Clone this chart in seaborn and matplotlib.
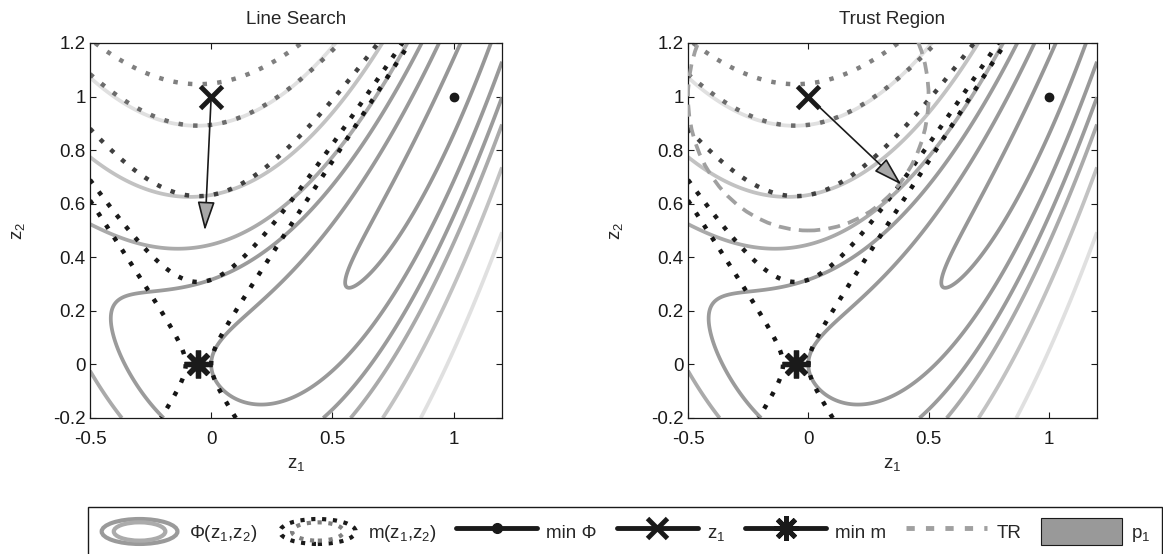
import numpy as np
import matplotlib
matplotlib.use('Agg')  # no display
import matplotlib.pyplot as plt
import seaborn as sns
from matplotlib.lines import Line2D
from matplotlib.patches import Ellipse, Circle, Patch
from matplotlib.legend_handler import HandlerBase

# objective Phi = (a - z1)^2 + b (z2 - z1^2)^2
rosen_a = 1.0
rosen_b = 10.0
z1_range = [-0.5, 1.2]
z2_range = [-0.2, 1.2]

phi_levels = [0.2, 1, 2, 3, 5, 9]
phi_colors = ['#979797', '#999999', '#9b9b9b', '#aaaaaa', '#c2c2c2', '#e0e0e0']
m_levels = [1, 2, 5, 9, 12]
m_colors = ['#151515', '#1c1c1c', '#404040', '#6c6c6c', '#808080']

current_point = [0.0, 1.0]      # z_1, where the model m is built
phi_min = [1.0, 1.0]
ls_step_end = [-0.026, 0.5]
tr_step_end = [0.387, 0.671]
tr_radius = 0.5

x_ticks = [-0.5, 0, 0.5, 1]
x_tick_labels = ['-0.5', '0', '0.5', '1']
y_ticks = [-0.2, 0, 0.2, 0.4, 0.6, 0.8, 1, 1.2]
y_tick_labels = ['-0.2', '0', '0.2', '0.4', '0.6', '0.8', '1', '1.2']
titles = ['Line Search', 'Trust Region']
step_ends = [ls_step_end, tr_step_end]

FS = 13.5

sns.set_theme(style='ticks')
plt.rcParams['font.family'] = ['Liberation Sans', 'DejaVu Sans']
plt.rcParams['mathtext.fontset'] = 'custom'
plt.rcParams['mathtext.rm'] = 'Liberation Sans'
plt.rcParams['mathtext.it'] = 'Liberation Sans'
plt.rcParams['mathtext.bf'] = 'Liberation Sans:bold'

# surfaces
g1 = np.linspace(z1_range[0], z1_range[1], 600)
g2 = np.linspace(z2_range[0], z2_range[1], 600)
Z1, Z2 = np.meshgrid(g1, g2)
PHI = (rosen_a - Z1) ** 2 + rosen_b * (Z2 - Z1 ** 2) ** 2

x0, y0 = current_point
f0 = (rosen_a - x0) ** 2 + rosen_b * (y0 - x0 ** 2) ** 2
grad = np.array([-2 * (rosen_a - x0) - 4 * rosen_b * x0 * (y0 - x0 ** 2),
                 2 * rosen_b * (y0 - x0 ** 2)])
hess = np.array([[2 - 4 * rosen_b * (y0 - x0 ** 2) + 8 * rosen_b * x0 ** 2, -4 * rosen_b * x0],
                 [-4 * rosen_b * x0, 2 * rosen_b]])
P1, P2 = Z1 - x0, Z2 - y0
M = (f0 + grad[0] * P1 + grad[1] * P2
     + 0.5 * (hess[0, 0] * P1 ** 2 + 2 * hess[0, 1] * P1 * P2 + hess[1, 1] * P2 ** 2))
m_min = np.array(current_point) - np.linalg.solve(hess, grad)


class HandlerRings(HandlerBase):
    def __init__(self, colors, ls, lw):
        super().__init__()
        self.colors = colors
        self.ls = ls
        self.lw = lw

    def create_artists(self, legend, orig_handle, xdescent, ydescent,
                       width, height, fontsize, trans):
        cx, cy = width / 2 - xdescent, height / 2 - ydescent
        arts = []
        for i, c in enumerate(self.colors):
            s = 0.94 - 0.3 * i
            arts.append(Ellipse((cx, cy), width * s, height * (s + 0.05 * i), fill=False,
                                ec=c, lw=self.lw, ls=self.ls, transform=trans))
        return arts


fig = plt.figure(figsize=(11.63, 5.54), dpi=100)
ax_rects = [[90 / 1163, 1 - 418 / 554, 412 / 1163, 375 / 554],
            [688 / 1163, 1 - 418 / 554, 409 / 1163, 375 / 554]]

for k, rect in enumerate(ax_rects):
    ax = fig.add_axes(rect)
    ax.contour(Z1, Z2, PHI, levels=phi_levels, colors=phi_colors, linewidths=2.7, zorder=1)
    ax.contour(Z1, Z2, M, levels=m_levels, colors=m_colors, linewidths=3.2,
               linestyles=[(0, (1, 2.3))], zorder=2)
    if k == 1:
        ax.add_patch(Circle(current_point, tr_radius, fill=False, ec='#a0a0a0', lw=2.7,
                            ls=(0, (3.2, 2.2)), zorder=3))
    end = step_ends[k]
    ax.annotate('', xy=end, xytext=current_point,
                arrowprops=dict(arrowstyle='-|>,head_length=1.5,head_width=0.45',
                                fc='#a8a8a8', ec='k', lw=1.2, shrinkA=0, shrinkB=0),
                zorder=4)
    ax.plot(*phi_min, 'o', color='k', ms=6, zorder=5)
    ax.plot(*current_point, marker='x', color='k', ms=16, mew=3.5, zorder=5)
    ax.plot(*m_min, marker=(8, 2, 0), color='k', ms=20, mew=3.8, zorder=5)

    ax.set_xlim(z1_range)
    ax.set_ylim(z2_range)
    ax.set_xticks(x_ticks)
    ax.set_xticklabels(x_tick_labels)
    ax.set_yticks(y_ticks)
    ax.set_yticklabels(y_tick_labels)
    ax.tick_params(direction='in', length=4, width=0.8, top=True, right=True,
                   labelsize=FS, colors='k', pad=3)
    ax.tick_params(axis='x', pad=9)
    for sp in ax.spines.values():
        sp.set_color('k')
        sp.set_linewidth(0.9)
    ax.set_title(titles[k], fontsize=FS, pad=14)
    ax.set_xlabel('z$_1$', fontsize=FS, labelpad=6)
    ax.set_ylabel('z$_2$', fontsize=FS, labelpad=19)

h_phi = Line2D([], [])
h_m = Line2D([], [])
handles = [
    h_phi,
    h_m,
    Line2D([], [], color='k', lw=3.5, marker='o', ms=7),
    Line2D([], [], color='k', lw=3.5, marker='x', ms=15, mew=3.5),
    Line2D([], [], color='k', lw=3.5, marker=(8, 2, 0), ms=18, mew=3.5),
    Line2D([], [], color='#a0a0a0', lw=3.5, ls=(0, (1.7, 2.3))),
    Patch(fc='#999999', ec='k', lw=0.8),
]
labels = ['Φ(z$_1$,z$_2$)', 'm(z$_1$,z$_2$)', 'min Φ', 'z$_1$', 'min m', 'TR', 'p$_1$']
leg = fig.legend(handles, labels, loc='lower left',
                 bbox_to_anchor=(88 / 1163, -2 / 554, 1074 / 1163, 50 / 554),
                 mode='expand', ncol=7, fontsize=FS, frameon=True, fancybox=False,
                 edgecolor='k', handlelength=4.3, handleheight=1.8, handletextpad=0.5,
                 borderpad=0.6, borderaxespad=0, columnspacing=0.8,
                 handler_map={h_phi: HandlerRings(['#9a9a9a', '#ababab'], '-', 3.0),
                              h_m: HandlerRings(['#1a1a1a', '#808080'], (0, (1, 1.6)), 3.0)})
leg.get_frame().set_linewidth(1.0)
leg.get_frame().set_alpha(1)

fig.savefig('out.png', dpi=100)
